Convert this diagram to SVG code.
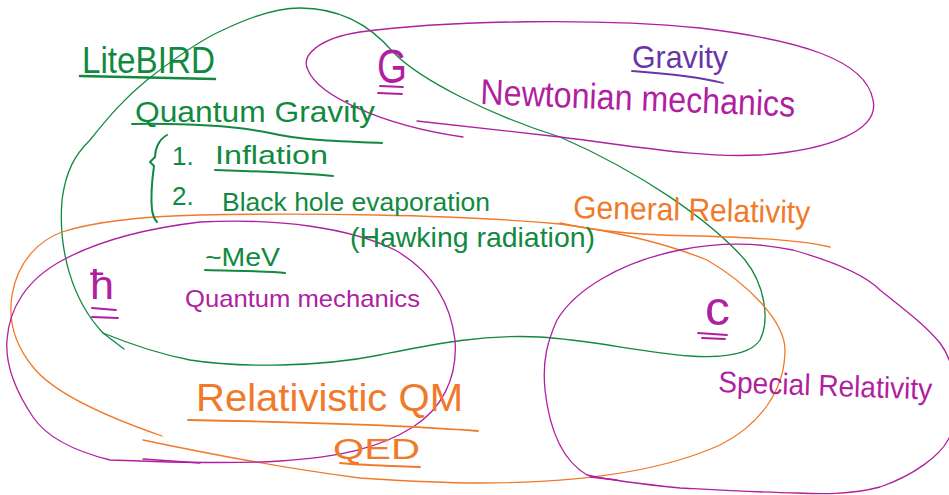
<svg xmlns="http://www.w3.org/2000/svg" width="949" height="495" viewBox="0 0 949 495">
<style>
.ln{fill:none;stroke-linecap:round;stroke-linejoin:round}
.g{stroke:#118a3f}
.m{stroke:#b01fa0}
.o{stroke:#f07a2a}
.v{stroke:#6b35a8}
.t{font-family:"Liberation Sans","DejaVu Sans",sans-serif;}
.tg{fill:#118a3f}
.tm{fill:#b01fa0}
.to{fill:#f07a2a}
.tv{fill:#6b35a8}
</style>
<rect width="949" height="495" fill="#ffffff"/>

<g id="loops">
  <!-- green quantum gravity loop -->
  <path class="ln g" stroke-width="1.3" d="M 103,333 C 72,300 58,250 62,200 C 66,170 75,155 90,140 C 110,115 125,98 147,80 C 175,58 200,40 223,30 C 250,17 275,8 300,8 C 340,8 370,25 393,52 C 420,80 490,115 560,137 C 640,172 710,220 745,260 C 765,285 770,320 760,340 C 750,355 720,358 690,356 C 640,352 590,340 540,337 C 480,334 430,345 380,355 C 320,367 240,368 190,360 C 150,352 120,340 103,333"/>
  <path class="ln g" stroke-width="1.3" d="M 103,333 L 124,349"/>
  <!-- magenta Newtonian loop -->
  <path class="ln m" stroke-width="1.3" d="M 417,121 L 560,137 C 640,147 700,158 760,155 C 830,150 880,130 873,100 C 866,60 800,40 700,28 C 600,18 450,20 360,32 C 320,38 300,55 308,70 C 318,95 380,125 463,137"/>
  <!-- orange GR loop -->
  <path class="ln o" stroke-width="1.3" d="M 162,436 C 110,418 55,395 33,367 C 15,345 8,320 12,295 C 18,260 40,240 62,232 C 100,220 150,216 200,215 C 300,213 450,214 560,224 C 620,232 670,245 707,260 C 745,282 785,320 785,350 C 785,390 760,425 720,445 C 660,472 580,483 480,483 C 430,483 390,480 360,478 C 280,468 200,452 143,440"/>
  <path class="ln o" stroke-width="1.3" d="M 560,223 C 600,232 640,235 700,236 C 760,238 800,240 830,247"/>
  <!-- magenta QM loop -->
  <path class="ln m" stroke-width="1.3" d="M 200,222 C 280,218 350,228 395,250 C 430,270 450,300 455,340 C 458,380 440,410 413,427 C 380,448 340,457 280,461 C 230,464 160,462 110,460 C 70,450 45,435 33,417 C 15,390 5,365 7,340 C 9,310 25,280 63,260 C 100,240 150,228 200,222"/>
  <path class="ln m" stroke-width="1.3" d="M 143,459 L 200,463"/>
  <!-- magenta SR loop -->
  <path class="ln m" stroke-width="1.3" d="M 680,250 C 720,242 760,243 793,250 C 835,262 865,275 880,290 C 905,310 925,325 940,343 C 960,370 960,420 948,440 C 940,455 915,475 880,487 C 850,495 820,494 797,493 C 750,492 700,489 680,488 C 640,484 610,480 587,475 C 565,462 550,435 545,390 C 542,360 548,340 557,320 C 575,290 620,262 680,250"/>
  <path class="ln m" stroke-width="1.3" d="M 590,477 L 617,480"/>
</g>

<g id="litebird">
  <text class="t tg" x="82" y="73" font-size="36" textLength="133" lengthAdjust="spacingAndGlyphs">LiteBIRD</text>
  <path class="ln g" stroke-width="2.5" d="M 80,76 C 130,77 180,78 215,79"/>
</g>

<g id="quantum-gravity">
  <text class="t tg" x="135" y="122" font-size="30" textLength="240" lengthAdjust="spacingAndGlyphs">Quantum Gravity</text>
  <path class="ln g" stroke-width="2" d="M 132,124 C 200,123 240,127 270,133 C 300,140 330,141 382,143"/>
  <path class="ln g" stroke-width="2" d="M 167,135 C 158,140 155,150 155,157 L 150,162 L 154,166 C 152,180 151,200 152,210 C 153,216 155,220 157,222"/>
  <text class="t tg" x="172" y="165" font-size="26">1.</text>
  <text class="t tg" x="215" y="164" font-size="26" textLength="113" lengthAdjust="spacingAndGlyphs">Inflation</text>
  <path class="ln g" stroke-width="2" d="M 215,170 C 250,171 300,173 333,176"/>
  <text class="t tg" x="172" y="205" font-size="26">2.</text>
  <text class="t tg" x="222" y="211" font-size="26" textLength="268" lengthAdjust="spacingAndGlyphs">Black hole evaporation</text>
  <text class="t tg" x="350" y="247" font-size="28" textLength="245" lengthAdjust="spacingAndGlyphs">(Hawking radiation)</text>
</g>

<g id="mev">
  <text class="t tg" x="205" y="266" font-size="26" textLength="75" lengthAdjust="spacingAndGlyphs">~MeV</text>
  <path class="ln g" stroke-width="2" d="M 205,270 C 240,271 270,271 285,273"/>
</g>

<g id="quantum-mechanics">
  <text class="t tm" x="185" y="307" font-size="24" textLength="235" lengthAdjust="spacingAndGlyphs">Quantum mechanics</text>
  <text class="t tm" x="90" y="299" font-size="40" textLength="24" lengthAdjust="spacingAndGlyphs">ħ</text>
  <path class="ln m" stroke-width="1.8" d="M 92,308 L 116,310 M 92,317 L 118,318"/>
</g>

<g id="gravity">
  <text class="t tv" x="632" y="68" font-size="32" textLength="96" lengthAdjust="spacingAndGlyphs">Gravity</text>
  <path class="ln v" stroke-width="1.8" d="M 632,71 C 660,73 700,77 723,83"/>
</g>

<g id="newtonian">
  <text class="t tm" x="480" y="104" font-size="36" textLength="315" lengthAdjust="spacingAndGlyphs" transform="rotate(2.3 480 104)">Newtonian mechanics</text>
  <text class="t tm" x="377" y="83" font-size="48" textLength="30" lengthAdjust="spacingAndGlyphs">G</text>
  <path class="ln m" stroke-width="1.8" d="M 380,86 L 403,87 M 378,93 L 402,94"/>
</g>

<g id="general-relativity">
  <text class="t to" x="573" y="218" font-size="32" textLength="237" lengthAdjust="spacingAndGlyphs" transform="rotate(1.3 573 218)">General Relativity</text>
</g>

<g id="relativistic-qm">
  <text class="t to" x="196" y="411" font-size="38" textLength="267" lengthAdjust="spacingAndGlyphs">Relativistic QM</text>
  <path class="ln o" stroke-width="1.8" d="M 188,420 C 300,422 400,425 478,431"/>
  <text class="t to" x="333" y="459" font-size="30" textLength="87" lengthAdjust="spacingAndGlyphs">QED</text>
  <path class="ln o" stroke-width="1.8" d="M 340,463 C 370,466 400,466 420,467"/>
</g>

<g id="special-relativity">
  <text class="t tm" x="705" y="325" font-size="48" textLength="25" lengthAdjust="spacingAndGlyphs">c</text>
  <path class="ln m" stroke-width="1.8" d="M 698,333 L 727,335 M 702,338 L 725,339"/>
  <text class="t tm" x="718" y="392" font-size="30" textLength="214" lengthAdjust="spacingAndGlyphs" transform="rotate(2 718 392)">Special Relativity</text>
</g>
</svg>
